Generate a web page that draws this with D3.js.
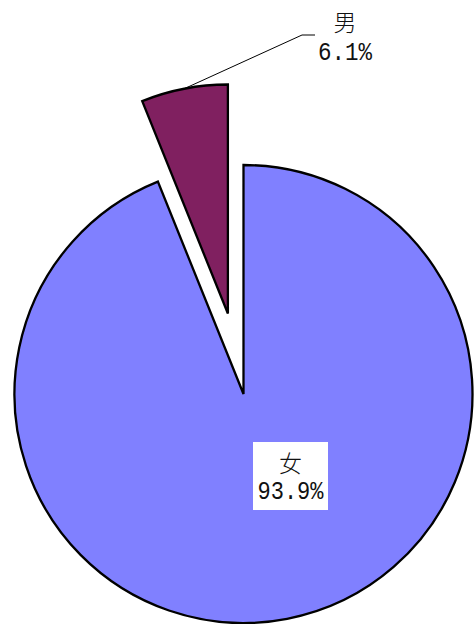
<!DOCTYPE html>
<html><head><meta charset="utf-8">
<script src="https://cdn.jsdelivr.net/npm/d3@7"></script>
<style>html,body{margin:0;padding:0;background:#fff;}svg{display:block;}</style>
</head><body>
<svg id="c" width="476" height="624"></svg>
<script>
const categories = ["男", "女"];
const values = [6.1, 93.9];
const colors = ["#802060", "#8080FF"];

const svg = d3.select("#c");
const cx = 243.5, cy = 394, R = 229, explode = 82;
const font = "'Liberation Mono','Noto Sans CJK SC',monospace";
const cjk = "'Noto Sans CJK SC',sans-serif";

const pie = d3.pie().sort(null).value(d => d)
  .startAngle(-values[0] / 100 * 2 * Math.PI)
  .endAngle(2 * Math.PI - values[0] / 100 * 2 * Math.PI);
const arcs = pie(values);
const arc = d3.arc().innerRadius(0).outerRadius(R);

const g = svg.append("g").attr("transform", `translate(${cx},${cy})`);
const offs = arcs.map((a, i) => {
  if (i !== 0) return [0, 0];
  const m = (a.startAngle + a.endAngle) / 2;
  return [Math.sin(m) * explode, -Math.cos(m) * explode];
});
g.selectAll("path").data(arcs).join("path")
  .attr("d", arc)
  .attr("transform", (d, i) => `translate(${offs[i][0]},${offs[i][1]})`)
  .attr("fill", (d, i) => colors[i])
  .attr("stroke", "#000").attr("stroke-width", 2.3).attr("stroke-linejoin", "miter");

// leader line for 男
const a0 = arcs[0];
const m0 = (a0.startAngle + a0.endAngle) / 2;
const p0 = [offs[0][0] + Math.sin(m0) * R, offs[0][1] - Math.cos(m0) * R];
const elbow = [302 - cx, 35 - cy], end = [315 - cx, 35 - cy];
g.append("polyline")
  .attr("points", [p0, elbow, end].map(p => p.join(",")).join(" "))
  .attr("fill", "none").attr("stroke", "#000").attr("stroke-width", 1);

function label(x, y1, y2, cat, val, w) {
  svg.append("text").attr("x", x).attr("y", y1).attr("text-anchor", "middle")
    .attr("font-family", cjk).attr("font-weight", 300).attr("font-size", 23).attr("fill", "#111").text(cat);
  svg.append("text").attr("x", x - w / 2).attr("y", y2)
    .attr("font-family", font).attr("font-size", 25).attr("fill", "#111")
    .attr("textLength", w).attr("lengthAdjust", "spacingAndGlyphs")
    .text(val.toFixed(1) + "%");
}
label(345, 31, 60, categories[0], values[0], 54);

svg.append("rect").attr("x", 253).attr("y", 442).attr("width", 75).attr("height", 68).attr("fill", "#fff");
label(290.5, 472, 499, categories[1], values[1], 66);
</script>
</body></html>
